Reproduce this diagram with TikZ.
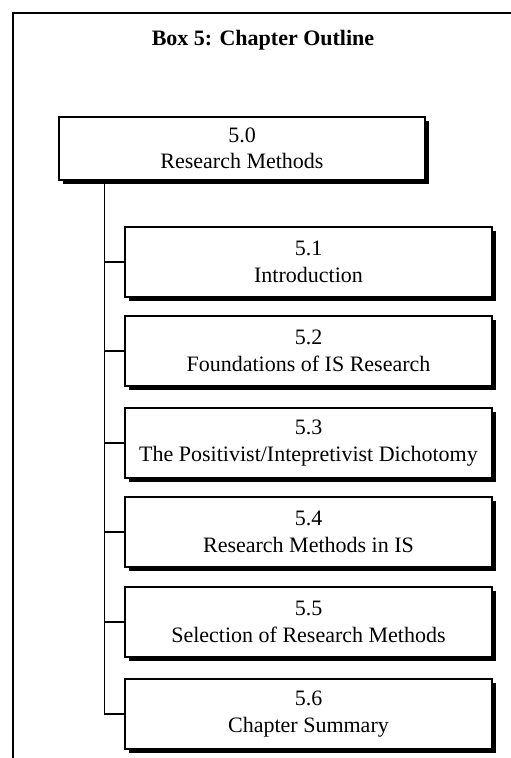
\documentclass[tikz,border=0pt]{standalone}
\usepackage{fontspec}
\setmainfont{Liberation Serif}
\usetikzlibrary{shadows}
\begin{document}
\begin{tikzpicture}[x=1pt,y=-1pt,
  frameline/.style={line width=1.5pt},
  link/.style={line width=1.6pt},
  outlinebox/.style={draw, line width=1.7pt, fill=white, align=center,
    inner sep=2pt, font=\fontsize{22}{26.5}\selectfont,
    drop shadow={fill=black, opacity=1, shadow xshift=4pt, shadow yshift=-4pt}},
  headbox/.style={outlinebox, minimum width=366pt, minimum height=63pt},
  subbox/.style={outlinebox, minimum width=367pt, minimum height=70pt},
  heading/.style={font=\fontsize{22}{26}\selectfont\bfseries}]
\useasboundingbox (0,0) rectangle (511,758);

% open frame: left and top edges
\draw[frameline] (13,758) -- (13,13) -- (511,13);

\node[heading] (title) at (263,40) {Box 5: Chapter Outline};

\node[headbox] (s0) at (242,148.5) {5.0\\Research Methods};

\node[subbox] (s1) at (308.5,262) {5.1\\Introduction};
\node[subbox] (s2) at (308.5,351) {5.2\\Foundations of IS Research};
\node[subbox] (s3) at (308.5,443) {5.3\\The Positivist/Intepretivist Dichotomy};
\node[subbox] (s4) at (308.5,532) {5.4\\Research Methods in IS};
\node[subbox] (s5) at (308.5,622) {5.5\\Selection of Research Methods};
\node[subbox] (s6) at (308.5,714) {5.6\\Chapter Summary};

% vertical trunk and branches
\coordinate (trunk) at (104.5,0);
\draw[link] (s0.south -| trunk) |- (s6.west);
\foreach \k in {1,...,5}
  \draw[link] (s\k.west -| trunk) -- (s\k.west);
\end{tikzpicture}
\end{document}
